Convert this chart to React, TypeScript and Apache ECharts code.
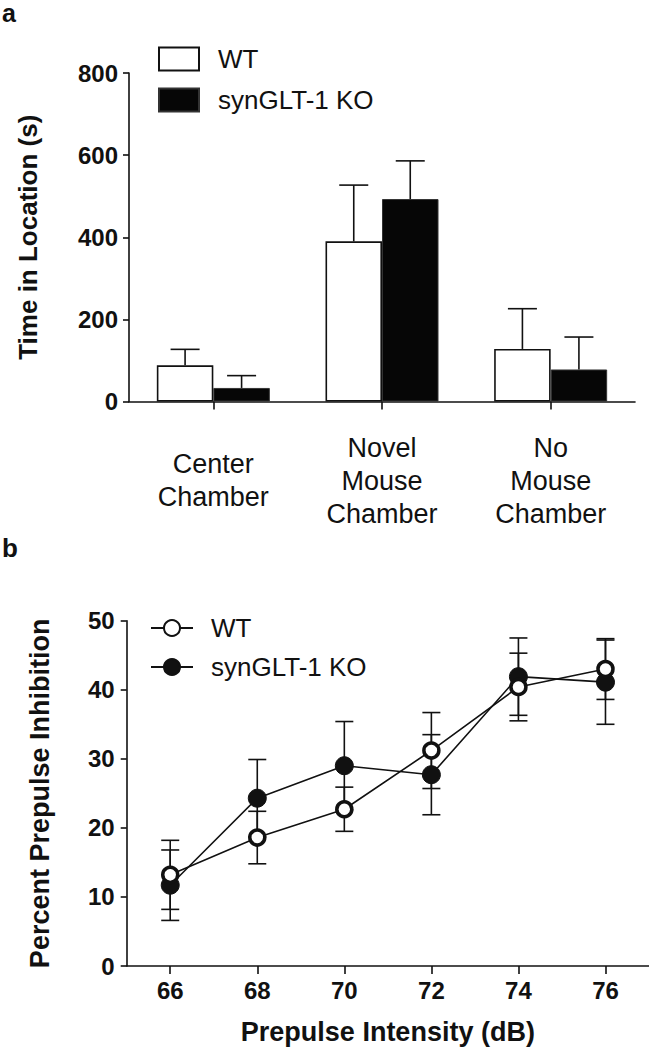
import React, { useEffect, useRef } from 'react';
import * as echarts from 'echarts';

// Panel a: time in location
const categories = ['Center\nChamber', 'Novel\nMouse\nChamber', 'No\nMouse\nChamber'];
const wtTime = [88, 390, 128];
const wtTimeErr = [39, 137, 98];
const koTime = [33, 493, 78];
const koTimeErr = [30, 93, 79];

// Panel b: prepulse inhibition
const intensities = [66, 68, 70, 72, 74, 76];
const wtPPI = [13.2, 18.6, 22.7, 31.2, 40.4, 43.0];
const wtPPIErr = [5.0, 3.8, 3.2, 5.5, 4.9, 4.4];
const koPPI = [11.7, 24.3, 29.0, 27.7, 41.9, 41.1];
const koPPIErr = [5.1, 5.6, 6.4, 5.8, 5.6, 6.1];

const FONT = '"Liberation Sans", Arial, Helvetica, sans-serif';
const INK = '#111';
const BAR_FRAC = 0.335;

function barErr(sign: number) {
  return (params: any, api: any) => {
    const idx = api.value(0);
    const v = api.value(1);
    const e = api.value(2);
    const band = api.size([1, 0])[0];
    const off = (sign * band * BAR_FRAC) / 2;
    const base = api.coord([idx, v]);
    const top = api.coord([idx, v + e]);
    const x = base[0] + off;
    const hw = 14.5;
    const st = { stroke: INK, lineWidth: 1.6 };
    return {
      type: 'group',
      children: [
        { type: 'line', shape: { x1: x, y1: base[1], x2: x, y2: top[1] }, style: st },
        { type: 'line', shape: { x1: x - hw, y1: top[1], x2: x + hw, y2: top[1] }, style: st },
      ],
    };
  };
}

function lineErr(params: any, api: any) {
  const x = api.value(0);
  const lo = api.value(1);
  const hi = api.value(2);
  const pLo = api.coord([x, lo]);
  const pHi = api.coord([x, hi]);
  const hw = 9;
  const st = { stroke: INK, lineWidth: 1.6 };
  return {
    type: 'group',
    children: [
      { type: 'line', shape: { x1: pLo[0], y1: pLo[1], x2: pHi[0], y2: pHi[1] }, style: st },
      { type: 'line', shape: { x1: pHi[0] - hw, y1: pHi[1], x2: pHi[0] + hw, y2: pHi[1] }, style: st },
      { type: 'line', shape: { x1: pLo[0] - hw, y1: pLo[1], x2: pLo[0] + hw, y2: pLo[1] }, style: st },
    ],
  };
}

const axisLine = { show: true, lineStyle: { color: INK, width: 1.6 } };

function topOption(): any {
  return {
    animation: false,
    backgroundColor: '#fff',
    graphic: [
      {
        type: 'text',
        left: 2,
        top: 0,
        style: { text: 'a', font: `bold 25px ${FONT}`, fill: INK },
      },
    ],
    legend: {
      left: 153,
      top: 41,
      orient: 'vertical',
      icon: 'rect',
      itemWidth: 40,
      itemHeight: 23,
      itemGap: 15,
      selectedMode: false,
      data: ['WT', 'synGLT-1 KO'],
      textStyle: {
        fontFamily: FONT,
        fontSize: 26,
        lineHeight: 26,
        color: INK,
        padding: [0, 0, 0, 14],
      },
    },
    grid: { left: 129, top: 73, width: 506, height: 338 },
    xAxis: {
      type: 'category',
      data: categories,
      axisLine,
      axisTick: { show: true, alignWithLabel: true, length: 8, lineStyle: { color: INK, width: 1.6 } },
      axisLabel: {
        fontFamily: FONT,
        fontSize: 27,
        lineHeight: 33,
        color: INK,
        verticalAlign: 'middle',
        margin: 79,
        interval: 0,
      },
    },
    yAxis: {
      type: 'value',
      min: 0,
      max: 800,
      interval: 200,
      name: 'Time in Location (s)',
      nameLocation: 'middle',
      nameGap: 88,
      nameTextStyle: { fontFamily: FONT, fontSize: 26, fontWeight: 'bold', color: INK },
      axisLine,
      axisTick: { show: true, length: 6, lineStyle: { color: INK, width: 1.6 } },
      splitLine: { show: false },
      axisLabel: { fontFamily: FONT, fontSize: 24, fontWeight: 'bold', color: INK, margin: 11 },
    },
    series: [
      {
        name: 'WT',
        type: 'bar',
        data: wtTime,
        barWidth: `${BAR_FRAC * 100}%`,
        barGap: '0%',
        itemStyle: { color: '#fff', borderColor: INK, borderWidth: 1.6 },
        z: 2,
      },
      {
        name: 'synGLT-1 KO',
        type: 'bar',
        data: koTime,
        barWidth: `${BAR_FRAC * 100}%`,
        barGap: '0%',
        itemStyle: { color: '#060606', borderColor: '#333', borderWidth: 1 },
        z: 2,
      },
      {
        name: 'WT error',
        type: 'custom',
        renderItem: barErr(-1),
        data: wtTime.map((v, i) => [i, v, wtTimeErr[i]]),
        z: 3,
      },
      {
        name: 'KO error',
        type: 'custom',
        renderItem: barErr(1),
        data: koTime.map((v, i) => [i, v, koTimeErr[i]]),
        z: 3,
      },
    ],
  };
}

function bottomOption(): any {
  return {
    animation: false,
    backgroundColor: '#fff',
    graphic: [
      {
        type: 'text',
        left: 2,
        top: 5,
        style: { text: 'b', font: `bold 26px ${FONT}`, fill: INK },
      },
    ],
    legend: {
      left: 145,
      top: 80,
      orient: 'vertical',
      itemWidth: 42,
      itemHeight: 20,
      itemGap: 13,
      selectedMode: false,
      data: ['WT', 'synGLT-1 KO'],
      textStyle: {
        fontFamily: FONT,
        fontSize: 26,
        lineHeight: 26,
        color: INK,
        padding: [0, 0, 0, 13],
      },
    },
    grid: { left: 126.7, top: 90.7, width: 522.3, height: 346 },
    xAxis: {
      type: 'value',
      min: 65,
      max: 77,
      name: 'Prepulse Intensity (dB)',
      nameLocation: 'middle',
      nameGap: 52,
      nameTextStyle: { fontFamily: FONT, fontSize: 27, fontWeight: 'bold', color: INK },
      axisLine,
      axisTick: { show: true, length: 8, customValues: intensities, lineStyle: { color: INK, width: 1.6 } },
      axisLabel: {
        fontFamily: FONT,
        fontSize: 24,
        fontWeight: 'bold',
        color: INK,
        margin: 12,
        customValues: intensities,
      },
      splitLine: { show: false },
    },
    yAxis: {
      type: 'value',
      min: 0,
      max: 50,
      interval: 10,
      name: 'Percent Prepulse Inhibition',
      nameLocation: 'middle',
      nameGap: 73,
      nameTextStyle: { fontFamily: FONT, fontSize: 27, fontWeight: 'bold', color: INK },
      axisLine,
      axisTick: { show: true, length: 6, lineStyle: { color: INK, width: 1.6 } },
      splitLine: { show: false },
      axisLabel: { fontFamily: FONT, fontSize: 24, fontWeight: 'bold', color: INK, margin: 12 },
    },
    series: [
      {
        name: 'WT error',
        type: 'custom',
        renderItem: lineErr,
        data: intensities.map((x, i) => [x, wtPPI[i] - wtPPIErr[i], wtPPI[i] + wtPPIErr[i]]),
        z: 1,
      },
      {
        name: 'KO error',
        type: 'custom',
        renderItem: lineErr,
        data: intensities.map((x, i) => [x, koPPI[i] - koPPIErr[i], koPPI[i] + koPPIErr[i]]),
        z: 1,
      },
      {
        name: 'WT',
        type: 'line',
        data: intensities.map((x, i) => [x, wtPPI[i]]),
        symbol: 'circle',
        symbolSize: 15,
        lineStyle: { color: INK, width: 1.6 },
        itemStyle: { color: '#fff', borderColor: INK, borderWidth: 3.5 },
        z: 4,
      },
      {
        name: 'synGLT-1 KO',
        type: 'line',
        data: intensities.map((x, i) => [x, koPPI[i]]),
        symbol: 'circle',
        symbolSize: 18,
        lineStyle: { color: INK, width: 1.6 },
        itemStyle: { color: INK, borderColor: INK, borderWidth: 1 },
        z: 3,
      },
    ],
  };
}

export default function App() {
  const topRef = useRef<HTMLDivElement>(null);
  const botRef = useRef<HTMLDivElement>(null);

  useEffect(() => {
    const c1 = echarts.init(topRef.current!, undefined, { renderer: 'svg' });
    c1.setOption(topOption());
    const c2 = echarts.init(botRef.current!, undefined, { renderer: 'svg' });
    c2.setOption(bottomOption());
    return () => {
      c1.dispose();
      c2.dispose();
    };
  }, []);

  return (
    <div style={{ position: 'absolute', left: 0, top: 0, width: 649, height: 1050, background: '#fff' }}>
      <div ref={topRef} style={{ width: 649, height: 530 }} />
      <div ref={botRef} style={{ width: 649, height: 520 }} />
    </div>
  );
}
